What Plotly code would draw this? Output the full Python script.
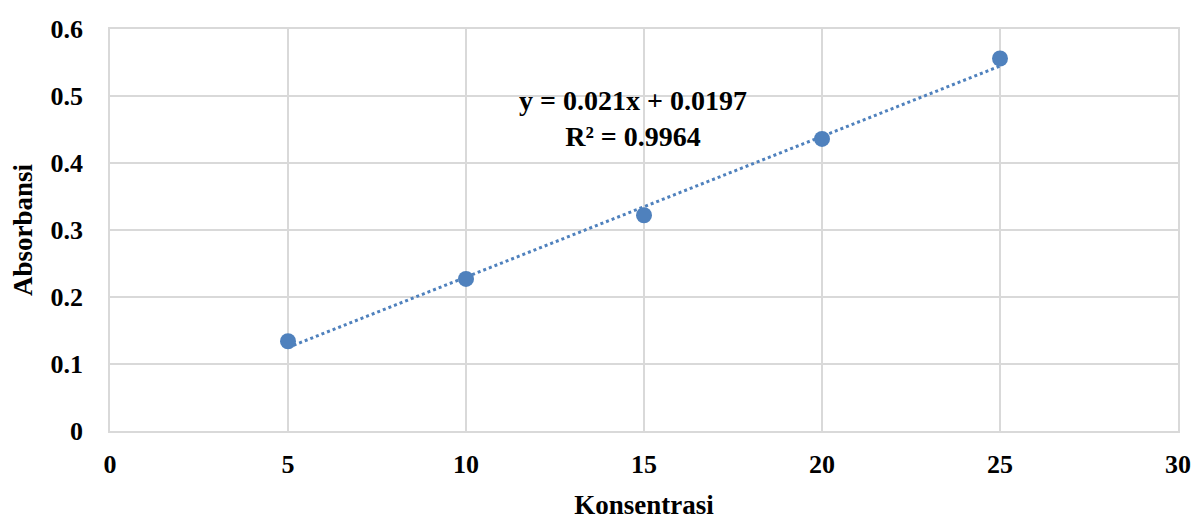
import plotly.graph_objects as go

konsentrasi = [5, 10, 15, 20, 25]
absorbansi = [0.134, 0.227, 0.322, 0.436, 0.556]
slope = 0.021
intercept = 0.0197
r_squared = 0.9964
trend_x = [5, 25]
trend_y = [slope * x + intercept for x in trend_x]

blue = "#4f81bd"
grid = "#d9d9d9"
font_family = "Liberation Serif, Times New Roman, serif"

fig = go.Figure()
fig.add_trace(go.Scatter(x=trend_x, y=trend_y, mode="lines",
                         line=dict(color=blue, width=3, dash="dot"),
                         showlegend=False, hoverinfo="skip"))
fig.add_trace(go.Scatter(x=konsentrasi, y=absorbansi, mode="markers",
                         marker=dict(color=blue, size=16),
                         showlegend=False))

fig.add_annotation(x=14.7, y=0.467, xref="x", yref="y",
                   text=f"<b>y = {slope}x + {intercept}<br>R² = {r_squared}</b>",
                   showarrow=False, align="center",
                   font=dict(family=font_family, size=28, color="black"))

fig.update_layout(
    template="none",
    width=1196, height=520,
    margin=dict(l=110, r=18, t=29, b=89),
    paper_bgcolor="white", plot_bgcolor="white",
    font=dict(family=font_family, color="black"),
)
fig.update_xaxes(range=[0, 30], dtick=5, tick0=0, automargin=False,
                 showgrid=True, gridcolor=grid, gridwidth=1.5,
                 zeroline=False, showline=True, linecolor=grid, linewidth=1.5,
                 mirror=True, ticks="", ticklabelstandoff=9,
                 tickfont=dict(family=font_family, size=26),
                 tickprefix="<b>", ticksuffix="</b>",
                 title=dict(text="<b>Konsentrasi</b>", font=dict(family=font_family, size=27),
                            standoff=24))
fig.update_yaxes(range=[0, 0.6], dtick=0.1, tick0=0, automargin=False,
                 showgrid=True, gridcolor=grid, gridwidth=1.5,
                 zeroline=False, showline=True, linecolor=grid, linewidth=1.5,
                 mirror=True, ticks="", ticklabelstandoff=20,
                 tickfont=dict(family=font_family, size=26),
                 tickformat="~g", tickprefix="<b>", ticksuffix="</b>",
                 title=dict(text="<b>Absorbansi</b>", font=dict(family=font_family, size=27),
                            standoff=10))

fig.write_html("out.html", config={"displayModeBar": False},
               post_script="document.body.style.margin='0';")
